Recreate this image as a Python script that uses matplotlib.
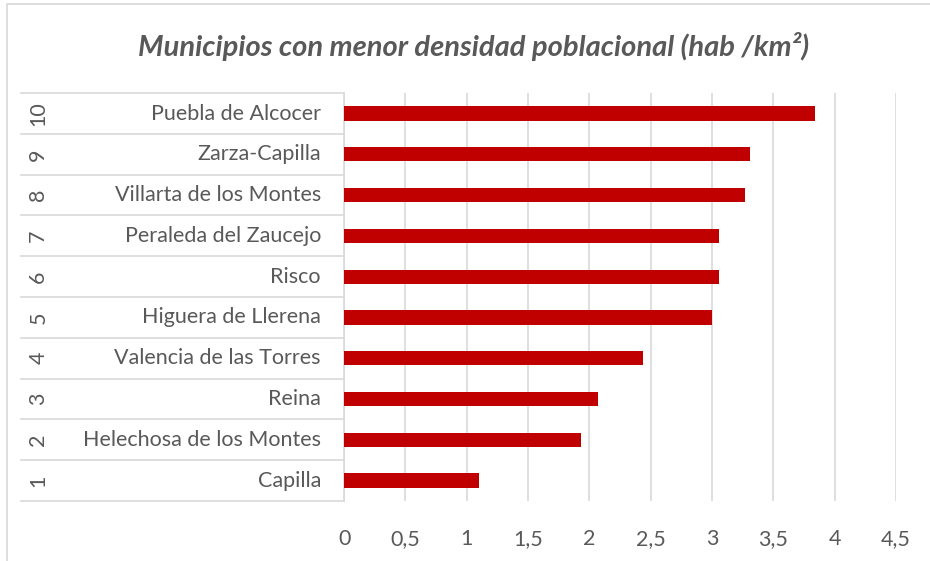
import matplotlib
matplotlib.use("Agg")
import matplotlib.pyplot as plt
from matplotlib.patches import Rectangle

# Datos
rangos = ["1", "2", "3", "4", "5", "6", "7", "8", "9", "10"]
municipios = ["Capilla", "Helechosa de los Montes", "Reina", "Valencia de las Torres",
              "Higuera de Llerena", "Risco", "Peraleda del Zaucejo",
              "Villarta de los Montes", "Zarza-Capilla", "Puebla de Alcocer"]
densidad = [1.10, 1.93, 2.07, 2.44, 3.00, 3.06, 3.06, 3.27, 3.31, 3.84]
ticks_x = [0, 0.5, 1, 1.5, 2, 2.5, 3, 3.5, 4, 4.5]
etiquetas_x = ["0", "0,5", "1", "1,5", "2", "2,5", "3", "3,5", "4", "4,5"]

plt.rcParams["font.family"] = ["Lato", "DejaVu Sans"]
gris_texto = "#595959"
gris_linea = "#d9d9d9"

fig = plt.figure(figsize=(9.3, 5.61), dpi=100)
fig.patches.append(Rectangle((7 / 930, -0.2), 1.2, 1.2 - 4 / 561, transform=fig.transFigure,
                             fill=False, edgecolor=gris_linea, linewidth=1.2))

ax = fig.add_axes([0.370, 0.107, 0.5935, 0.727])
y = list(range(len(municipios)))
ax.barh(y, densidad, height=0.35, color="#c00000", zorder=3)

ax.set_xlim(0, 4.5)
ax.set_ylim(-0.5, len(municipios) - 0.5)
ax.set_xticks(ticks_x)
ax.set_xticklabels(etiquetas_x, color=gris_texto, fontsize=15.5)
ax.tick_params(axis="x", length=0, pad=20)
ax.set_yticks([])
ax.grid(axis="x", color=gris_linea, linewidth=1.2, zorder=0)
for s in ["top", "right", "bottom"]:
    ax.spines[s].set_visible(False)
ax.spines["left"].set_color(gris_linea)
ax.spines["left"].set_linewidth(1.2)

# Tabla de categorías a la izquierda
x0 = (21 - 344) / 552
for k in range(len(municipios) + 1):
    ax.plot([x0, 0], [k - 0.5, k - 0.5], transform=ax.get_yaxis_transform(),
            color=gris_linea, linewidth=1.2, clip_on=False)
for i, (r, m) in enumerate(zip(rangos, municipios)):
    ax.text(-0.042, i, m, transform=ax.get_yaxis_transform(), ha="right",
            va="center", fontsize=15.5, color=gris_texto)
    ax.text(-0.554, i, r, transform=ax.get_yaxis_transform(), ha="center",
            va="center", fontsize=15.5, color=gris_texto, rotation=90)

fig.text(0.509, 0.918, "Municipios con menor densidad poblacional (hab /km²)",
         ha="center", va="center", fontsize=21, fontweight="bold",
         fontstyle="italic", color=gris_texto)

fig.savefig("out.png", dpi=100)
